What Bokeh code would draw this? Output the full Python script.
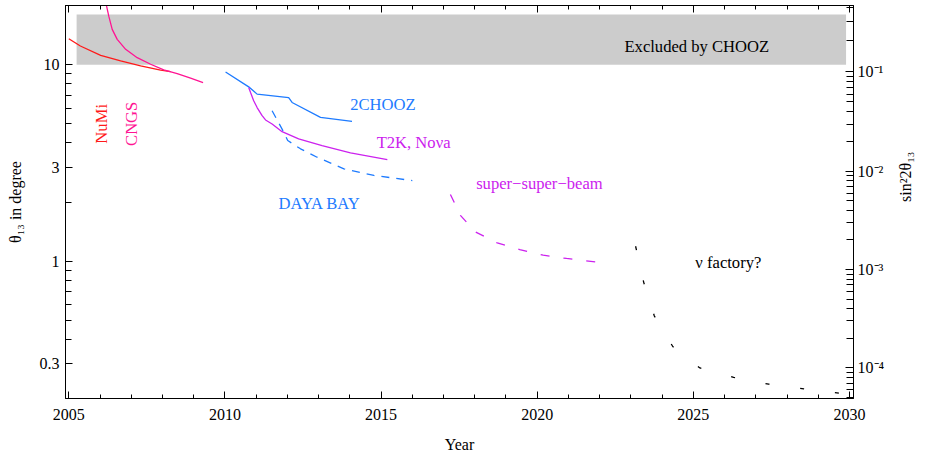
import math
from bokeh.plotting import figure
from bokeh.models import (Range1d, LinearAxis, LogAxis, FixedTicker,
                          CustomJSTickFormatter, ColumnDataSource)
from bokeh.core.properties import value
from bokeh.embed import file_html
from bokeh.resources import INLINE

# ---------------- data (theta_13 in degrees vs. year) ----------------
numi_year = [2005.00, 2005.37, 2006.02, 2006.66, 2007.30, 2007.94, 2008.26]
numi_theta = [13.55, 12.44, 11.16, 10.44, 9.85, 9.37, 9.21]

cngs_year = [2006.17, 2006.21, 2006.28, 2006.39, 2006.55, 2006.82, 2007.19,
             2007.62, 2008.04, 2008.47, 2008.90, 2009.30]
cngs_theta = [21.5, 19.84, 17.65, 15.12, 13.45, 11.97, 10.85,
              10.05, 9.40, 9.00, 8.53, 8.11]

chooz2_year = [2010.02, 2010.76, 2011.03, 2012.04, 2012.15, 2013.06, 2014.07]
chooz2_theta = [9.18, 7.71, 7.08, 6.80, 6.42, 5.39, 5.14]

t2k_year = [2010.76, 2010.82, 2010.92, 2011.03, 2011.19, 2011.30, 2011.51,
            2011.83, 2012.36, 2013.11, 2014.02, 2015.20]
t2k_theta = [7.65, 7.21, 6.55, 6.05, 5.50, 5.23, 4.99,
             4.56, 4.19, 3.87, 3.56, 3.29]

dayabay_year = [2011.51, 2011.88, 2012.01, 2012.42, 2012.95, 2013.81, 2014.77, 2016.00]
dayabay_theta = [5.83, 4.54, 4.11, 3.73, 3.38, 2.95, 2.73, 2.57]

ssb_year = [2017.22, 2017.54, 2018.02, 2018.72, 2019.44, 2020.19, 2020.94, 2021.95]
ssb_theta = [2.186, 1.711, 1.408, 1.238, 1.146, 1.072, 1.032, 0.988]

nufact_year = [2023.15, 2023.41, 2023.75, 2024.34, 2025.21, 2026.29,
               2027.41, 2028.54, 2029.66, 2030.50]
nufact_theta = [1.191, 0.780, 0.526, 0.368, 0.286, 0.256,
                0.2366, 0.224, 0.213, 0.205]

excl_year = [2005.25, 2029.89]
excl_theta = [10.0, 18.0]

x_major = [2005, 2010, 2015, 2020, 2025, 2030]
x_minor = list(range(2005, 2031))
y_major = [0.3, 1, 3, 10]
y_minor = [0.4, 0.5, 0.6, 0.7, 0.8, 0.9, 2, 4, 5, 6, 7, 8, 9, 20]
s2_major = [1e-4, 1e-3, 1e-2, 1e-1]
s2_minor = [k * 10.0 ** e for e in (-5, -4, -3, -2, -1) for k in range(1, 10)]

label_text = ["NuMi", "CNGS", "2CHOOZ", "T2K, No\u03bda", "DAYA BAY",
              "super\u2212super\u2212beam", "\u03bd factory?", "Excluded by CHOOZ"]
label_year = [2006.05, 2007.01, 2015.06, 2016.04, 2013.03, 2020.07, 2026.12, 2025.11]
label_theta = [5.0, 5.0, 6.30, 4.02, 1.975, 2.477, 0.985, 12.44]
label_angle = [math.pi / 2, math.pi / 2, 0, 0, 0, 0, 0, 0]

RED = "#FF1A1A"
PINK = "#FF1493"
BLUE = "#1E7BFF"
MAG = "#CC22EE"
label_color = [RED, PINK, BLUE, MAG, BLUE, MAG, "black", "black"]

FONT = "Liberation Serif"
FS = "16px"
FS_TXT = "16.6px"


def theta_of_s2(s):
    return math.degrees(math.asin(math.sqrt(s))) / 2.0


# ---------------- figure ----------------
p = figure(width=927, height=455,
           x_range=Range1d(2004.894, 2030.128),
           y_range=Range1d(0.2, 20),
           y_axis_type="log",
           output_backend="svg", toolbar_location=None,
           min_border_left=65, min_border_right=74,
           min_border_top=5, min_border_bottom=56)
p.xgrid.visible = False
p.ygrid.visible = False
p.outline_line_color = "black"
p.background_fill_color = "white"
p.border_fill_color = "white"


def style_axis(ax, major_in=7, minor_in=4):
    ax.major_tick_in = major_in
    ax.major_tick_out = 0
    ax.minor_tick_in = minor_in
    ax.minor_tick_out = 0
    ax.axis_line_color = "black"
    ax.major_tick_line_color = "black"
    ax.minor_tick_line_color = "black"
    ax.major_label_text_font = FONT
    ax.major_label_text_font_size = FS
    ax.major_label_text_color = "black"
    ax.axis_label_text_font = FONT
    ax.axis_label_text_font_size = FS
    ax.axis_label_text_font_style = "normal"
    ax.axis_label_text_color = "black"


# bottom axis
xa = p.xaxis[0]
xa.ticker = FixedTicker(ticks=x_major, minor_ticks=x_minor)
style_axis(xa, 7, 4)
xa.major_label_standoff = 10
xa.axis_label = "Year"
xa.axis_label_standoff = 13

# top axis (ticks only, no labels drawn)
ta = LinearAxis(ticker=FixedTicker(ticks=x_major, minor_ticks=x_minor))
style_axis(ta, 7, 4)
ta.major_label_text_color = None
ta.major_label_text_font_size = "1px"
ta.major_label_standoff = 0
p.add_layout(ta, "above")

# left axis
ya = p.yaxis[0]
ya.ticker = FixedTicker(ticks=y_major, minor_ticks=y_minor)
ya.formatter = CustomJSTickFormatter(code="return String(tick);")
style_axis(ya, 7, 6)
ya.major_label_standoff = 6
ya.axis_label = "\u03b8\u2081\u2083 in degree"
ya.axis_label_standoff = 13

# right axis: sin^2(2 theta)
ra = LogAxis(ticker=FixedTicker(ticks=[theta_of_s2(s) for s in s2_major],
                                minor_ticks=[theta_of_s2(s) for s in s2_minor]))
ra.formatter = CustomJSTickFormatter(code="""
const s = Math.pow(Math.sin(Math.PI * tick / 90), 2);
const e = Math.round(Math.log10(s));
const sup = {"-": "\u207b", "0": "\u2070", "1": "\u00b9", "2": "\u00b2",
             "3": "\u00b3", "4": "\u2074", "5": "\u2075"};
return "10" + String(e).split("").map(c => sup[c]).join("");
""")
style_axis(ra, 8, 7)
ra.major_label_standoff = 4
ra.axis_label = "sin\u00b22\u03b8\u2081\u2083"
ra.axis_label_standoff = 18
ra.axis_label_orientation = math.pi / 2
p.add_layout(ra, "right")

# excluded region
p.quad(left=[excl_year[0]], right=[excl_year[1]],
       bottom=[excl_theta[0]], top=[excl_theta[1]],
       fill_color="#CCCCCC", line_color=None)

# curves
p.line(numi_year, numi_theta, line_color=RED, line_width=1.3)
p.line(cngs_year, cngs_theta, line_color=PINK, line_width=1.3)
p.line(chooz2_year, chooz2_theta, line_color=BLUE, line_width=1.3)
p.line(t2k_year, t2k_theta, line_color=MAG, line_width=1.3)
p.line(dayabay_year, dayabay_theta, line_color=BLUE, line_width=1.3,
       line_dash="8 7")
p.line(ssb_year, ssb_theta, line_color=MAG, line_width=1.3, line_dash="9 14")
p.line(nufact_year, nufact_theta, line_color="black", line_width=1.3,
       line_dash="4 31")

# labels
src = ColumnDataSource(dict(x=label_year, y=label_theta, text=label_text,
                            angle=label_angle, color=label_color))
p.text(x="x", y="y", text="text", angle="angle", text_color="color",
       source=src, text_font=value(FONT), text_font_size=FS_TXT,
       text_align="center", text_baseline="middle")

open("out.html", "w").write(file_html(p, INLINE))
